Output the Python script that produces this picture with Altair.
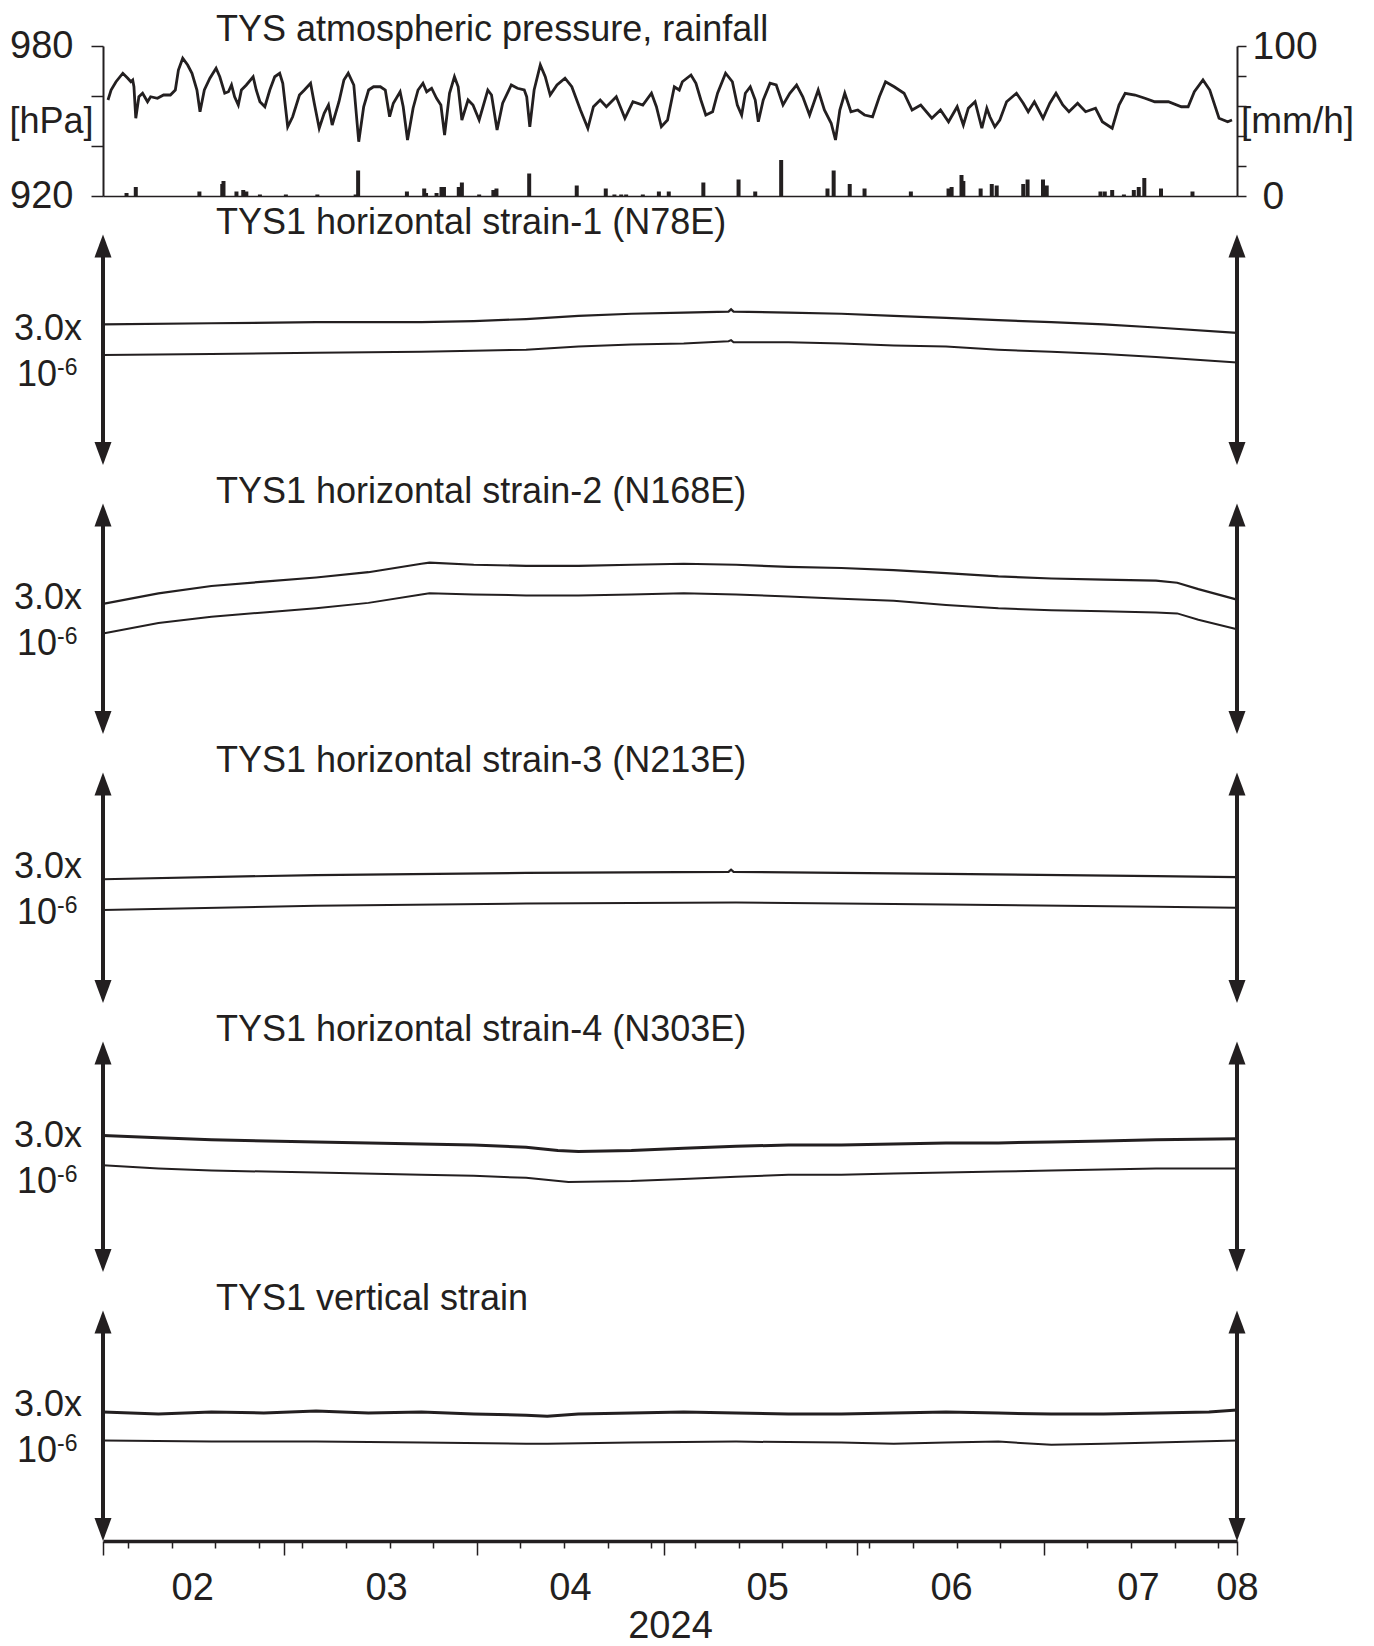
import altair as alt
import pandas as pd

# ---------------- data ----------------
START = pd.Timestamp("2024-02-01")
TOP_TITLE = "TYS atmospheric pressure, rainfall"
STRAIN_TITLES = [
    "TYS1 horizontal strain-1 (N78E)",
    "TYS1 horizontal strain-2 (N168E)",
    "TYS1 horizontal strain-3 (N213E)",
    "TYS1 horizontal strain-4 (N303E)",
    "TYS1 vertical strain",
]

# atmospheric pressure [hPa]; time in days since 2024-02-01
press_days = [0, 0.5, 1.3, 2.4, 3.2, 3.7, 4.0, 4.2, 4.5, 5.0, 5.6, 6.4, 6.9, 8.0, 9.0, 10.1,
              10.9, 11.4, 12.1, 12.9, 13.6, 14.4, 14.9, 15.6, 16.5, 17.5, 18.1, 18.9, 19.5,
              20.0, 20.5, 21.1, 21.6, 22.4, 23.5, 24.0, 24.6, 25.4, 26.2, 27.0, 27.8, 28.3,
              29.1, 29.9, 31.0, 31.8, 32.8, 33.4, 34.2, 35.0, 35.7, 36.3, 37.4, 38.2, 38.9,
              39.8, 40.6, 41.4, 42.2, 43.0, 44.1, 44.9, 45.6, 46.2, 47.3, 47.8, 48.5, 49.4,
              50.2, 51.0, 51.6, 52.4, 53.2, 53.9, 54.5, 55.3, 56.1, 56.7, 57.3, 58.3, 59.1,
              60.1, 61.5, 62.1, 63.0, 63.9, 65.3, 66.3, 67.4, 67.8, 68.3, 69.0, 70.0, 70.8,
              71.6, 72.7, 74.0, 75.1, 76.5, 77.7, 78.6, 79.7, 80.7, 82.3, 83.7, 85.0, 86.6,
              88.0, 88.8, 89.6, 90.6, 91.7, 92.5, 93.0, 94.4, 95.2, 96.0, 96.8, 97.9, 98.7,
              100.0, 101.1, 101.9, 102.6, 103.2, 104.0, 104.8, 105.3, 106.1, 107.2, 108.2,
              109.3, 110.4, 111.5, 112.5, 113.6, 115.0, 116.0, 117.1, 117.8, 118.5, 119.3,
              120.3, 121.4, 122.5, 123.8, 124.9, 125.9, 127.3, 128.9, 130.2, 131.6, 133.4,
              134.8, 136.1, 137.5, 138.5, 139.3, 140.4, 141.5, 142.3, 142.8, 143.6, 144.4,
              145.5, 147.1, 148.2, 149.0, 150.0, 151.4, 152.5, 153.5, 154.6, 155.6, 157.0,
              158.3, 159.9, 161.0, 162.6, 163.7, 164.7, 166.3, 167.9, 169.5, 171.7, 173.8,
              174.9, 175.9, 177.3, 178.4, 179.9, 181.3, 182.0]
press_hpa = [958.4, 962.4, 965.7, 969.1, 967.1, 965.7, 966.4, 963.7, 951.1, 959.7, 961.1, 957.7,
             959.7, 959.1, 960.4, 960.4, 962.4, 970.4, 975.1, 972.4, 969.1, 962.4, 953.7, 962.4,
             967.1, 971.1, 967.7, 961.1, 961.7, 964.4, 959.7, 956.4, 962.4, 964.4, 967.7, 962.4,
             957.7, 955.7, 962.4, 967.7, 969.1, 965.1, 947.7, 951.7, 960.4, 962.4, 965.1, 957.1,
             947.1, 953.1, 956.4, 948.4, 957.7, 966.4, 969.1, 964.4, 941.7, 955.7, 962.4, 963.7,
             963.7, 962.4, 951.7, 957.1, 961.7, 955.7, 942.4, 955.1, 962.4, 965.1, 961.7, 963.1,
             959.1, 956.4, 944.4, 961.1, 967.7, 963.7, 950.4, 958.4, 956.4, 950.4, 962.4, 960.4,
             946.4, 957.1, 964.4, 963.1, 962.4, 959.7, 947.7, 962.4, 972.4, 967.7, 960.4, 964.4,
             967.1, 963.7, 954.4, 947.1, 955.7, 958.4, 955.7, 959.7, 951.1, 957.7, 956.4, 961.1,
             955.7, 947.7, 950.4, 963.7, 962.4, 965.7, 968.4, 965.1, 958.4, 952.4, 953.7, 961.1,
             969.1, 965.7, 956.4, 952.4, 961.1, 963.7, 958.4, 949.7, 958.4, 965.1, 964.4, 956.4,
             961.1, 964.4, 959.7, 952.4, 962.4, 954.4, 949.1, 942.4, 954.4, 961.1, 953.7, 954.4,
             952.4, 951.7, 959.7, 965.7, 963.7, 961.1, 954.4, 956.4, 951.1, 954.4, 949.7, 955.7,
             948.4, 955.1, 957.7, 947.1, 955.1, 951.7, 947.7, 950.4, 957.7, 961.1, 957.1, 953.7,
             957.7, 951.1, 957.1, 961.1, 956.4, 953.7, 957.1, 953.7, 955.1, 949.7, 947.1, 956.4,
             961.1, 960.4, 959.1, 957.7, 957.7, 955.7, 955.7, 961.7, 966.4, 962.4, 951.1, 949.7,
             950.4]

# rainfall [mm/h]
rain_days = [3.0, 4.5, 14.8, 18.5, 18.7, 20.8, 21.9, 22.4, 24.6, 28.8, 33.9, 40.1, 40.5, 48.4,
             51.2, 51.5, 53.2, 54.0, 54.4, 56.8, 57.3, 60.1, 62.4, 62.9, 68.2, 75.9, 80.6, 82.0,
             83.1, 83.9, 86.6, 89.2, 90.8, 96.4, 102.1, 104.8, 109.0, 116.5, 117.5, 120.1, 122.5,
             130.0, 136.1, 136.6, 138.2, 138.5, 141.3, 143.1, 143.9, 148.2, 148.9, 151.4, 152.0,
             160.7, 161.4, 162.6, 164.5, 166.1, 166.9, 167.8, 170.5, 175.6]
rain_mmh = [2, 6, 3, 8, 10, 3, 4, 3, 1, 1, 1, 1, 17, 3, 5, 2, 2, 6, 6, 6, 9, 1, 4, 5, 15, 7, 5,
            1, 1, 1, 1, 3, 3, 9, 11, 3, 24, 5, 17, 8, 5, 3, 5, 6, 14, 10, 5, 8, 7, 8, 11, 11, 7,
            3, 3, 4, 1, 4, 6, 12, 5, 3]

# strain traces (relative, units of 1e-6); two traces per panel
s1_up_days = [0, 17.4, 34.2, 51.1, 59.5, 67.9, 76.3, 84.8, 93.2, 100.4, 100.8, 101.2, 110.0,
              118.5, 126.9, 135.3, 143.7, 152.2, 160.6, 169.0, 182]
s1_up_vals = [1.830, 1.844, 1.858, 1.858, 1.872, 1.899, 1.940, 1.968, 1.982, 1.995, 2.025, 1.995,
              1.982, 1.968, 1.940, 1.913, 1.885, 1.858, 1.830, 1.789, 1.720]
s1_lo_days = s1_up_days
s1_lo_vals = [1.431, 1.445, 1.459, 1.472, 1.486, 1.500, 1.541, 1.569, 1.582, 1.610, 1.624, 1.596,
              1.596, 1.582, 1.555, 1.541, 1.500, 1.472, 1.445, 1.404, 1.335]

s2_up_days = [0, 8.9, 17.4, 25.8, 34.2, 42.6, 51.1, 52.4, 59.5, 67.9, 76.3, 84.8, 93.2, 101.6,
              110.0, 118.5, 126.9, 135.3, 143.7, 152.2, 160.6, 169.0, 172.4, 175.8, 182]
s2_up_vals = [1.693, 1.830, 1.926, 1.982, 2.036, 2.105, 2.215, 2.229, 2.202, 2.188, 2.188, 2.202,
              2.215, 2.202, 2.174, 2.160, 2.133, 2.092, 2.050, 2.023, 2.009, 1.995, 1.968, 1.885,
              1.748]
s2_lo_days = s2_up_days
s2_lo_vals = [1.307, 1.445, 1.527, 1.582, 1.637, 1.706, 1.816, 1.830, 1.816, 1.803, 1.803, 1.816,
              1.830, 1.816, 1.789, 1.761, 1.734, 1.679, 1.637, 1.610, 1.596, 1.582, 1.569, 1.486,
              1.362]

s3_up_days = [0, 34.2, 67.9, 100.4, 100.8, 101.2, 135.3, 169.0, 182]
s3_up_vals = [1.610, 1.665, 1.693, 1.706, 1.734, 1.706, 1.679, 1.651, 1.637]
s3_lo_days = [0, 34.2, 67.9, 101.6, 135.3, 169.0, 182]
s3_lo_vals = [1.211, 1.266, 1.293, 1.307, 1.280, 1.252, 1.238]

s4_up_days = [0, 8.9, 17.4, 34.2, 51.1, 59.5, 67.9, 73.0, 76.3, 84.8, 93.2, 101.6, 110.0, 118.5,
              126.9, 135.3, 143.7, 152.2, 160.6, 169.0, 182]
s4_up_vals = [1.775, 1.748, 1.720, 1.693, 1.665, 1.651, 1.624, 1.582, 1.569, 1.582, 1.610, 1.637,
              1.651, 1.651, 1.665, 1.679, 1.679, 1.693, 1.706, 1.720, 1.734]
s4_lo_days = [0, 8.9, 17.4, 34.2, 51.1, 59.5, 67.9, 74.7, 84.8, 93.2, 101.6, 110.0, 118.5, 126.9,
              135.3, 143.7, 152.2, 160.6, 169.0, 182]
s4_lo_vals = [1.390, 1.348, 1.321, 1.293, 1.266, 1.252, 1.225, 1.170, 1.183, 1.211, 1.238, 1.266,
              1.266, 1.280, 1.293, 1.307, 1.321, 1.335, 1.348, 1.348]

s5_up_days = [0, 8.9, 17.4, 25.8, 34.2, 42.6, 51.1, 59.5, 67.9, 71.3, 76.3, 84.8, 93.2, 101.6,
              110.0, 118.5, 126.9, 135.3, 143.7, 152.2, 160.6, 169.0, 177.5, 182]
s5_up_vals = [1.679, 1.651, 1.679, 1.665, 1.693, 1.665, 1.679, 1.651, 1.637, 1.624, 1.651, 1.665,
              1.679, 1.665, 1.651, 1.651, 1.665, 1.679, 1.665, 1.651, 1.651, 1.665, 1.679, 1.706]
s5_lo_days = [0, 17.4, 34.2, 51.1, 67.9, 71.3, 84.8, 101.6, 118.5, 126.9, 135.3, 143.7, 152.2,
              160.6, 169.0, 182]
s5_lo_vals = [1.307, 1.293, 1.293, 1.280, 1.266, 1.266, 1.280, 1.293, 1.280, 1.266, 1.280, 1.293,
              1.252, 1.266, 1.280, 1.307]

SCALE_BAR = 3.0          # arrow length = 3.0 x 10^-6
# month label anchor times (month, day, hour); minute 30 marks a label-only value
month_label_times = [(2, 15, 7), (3, 17, 10), (4, 15, 22), (5, 17, 14), (6, 16, 2), (7, 16, 2)]

# ---------------- style ----------------
INK = "#231f20"
FONT = "Liberation Sans"
FS = 36
FS_NUM = 38
W = 1134
H_TOP = 150
H_STRAIN = 269
Y_MAX = 3.5

UP = "M0,0L0.5,1.35L-0.5,1.35Z"
DOWN = "M0,0L0.5,-1.35L-0.5,-1.35Z"


def to_dt(days):
    return [START + pd.Timedelta(days=d) for d in days]


XDOM = [alt.DateTime(year=2024, month=2, date=1), alt.DateTime(year=2024, month=8, date=1)]


def xscale():
    return alt.Scale(domain=XDOM, nice=False)


# ---------------- top panel ----------------
press_df = pd.DataFrame({"t": to_dt(press_days), "p": press_hpa})
rain_df = pd.DataFrame({"t": to_dt(rain_days), "r": rain_mmh})

top_x_axis = alt.Axis(labels=False, ticks=False, title=None, grid=False,
                      domainColor=INK, domainWidth=1.5)

pline = alt.Chart(press_df).mark_line(color=INK, strokeWidth=2.8).encode(
    x=alt.X("t:T", scale=xscale(), axis=top_x_axis),
    y=alt.Y("p:Q", scale=alt.Scale(domain=[920, 980], nice=False, zero=False),
            axis=alt.Axis(values=[920, 940, 960, 980],
                          labelExpr="datum.value == 920 || datum.value == 980 ? datum.label : ''",
                          grid=False, tickSize=12, tickWidth=1.5, tickColor=INK,
                          domainWidth=2, domainColor=INK, labelPadding=18,
                          labelFontSize=FS_NUM, labelFont=FONT, labelColor=INK,
                          title="[hPa]", titleAngle=0, titleX=-52, titleY=75,
                          titleAlign="center", titleBaseline="middle", titleFontSize=FS,
                          titleFont=FONT, titleFontWeight="normal", titleColor=INK)),
)
rbars = alt.Chart(rain_df).mark_bar(color=INK, size=4).encode(
    x=alt.X("t:T", scale=xscale(), axis=top_x_axis),
    y=alt.Y("r:Q", scale=alt.Scale(domain=[0, 100], nice=False),
            axis=alt.Axis(orient="right", values=[0, 20, 40, 60, 80, 100],
                          labelExpr="datum.value == 0 || datum.value == 100 ? datum.label : ''",
                          grid=False, tickSize=9, tickWidth=1.5, tickColor=INK,
                          domainWidth=2, domainColor=INK,
                          labelPadding={"condition": {"test": "datum.value == 0", "value": 16},
                                        "value": 6},
                          labelFontSize=FS_NUM + 1, labelFont=FONT, labelColor=INK,
                          title="[mm/h]", titleAngle=0, titleX=60, titleY=75,
                          titleAlign="center", titleBaseline="middle", titleFontSize=FS + 1,
                          titleFont=FONT, titleFontWeight="normal", titleColor=INK)),
)
top_title = alt.Chart(pd.DataFrame({"label": [TOP_TITLE]})).mark_text(
    align="left", baseline="alphabetic", font=FONT, fontSize=FS, color=INK
).encode(text="label:N", x=alt.value(113), y=alt.value(-5))

top = alt.layer(pline, rbars, top_title).resolve_scale(y="independent").properties(
    width=W, height=H_TOP)

# ---------------- bottom time axis ----------------
month_starts = [alt.DateTime(year=2024, month=m, date=1) for m in range(2, 9)]
mondays = [alt.DateTime(year=2024, month=int(d.month), date=int(d.day))
           for d in pd.date_range("2024-02-05", "2024-07-31", freq="7D")]
mids = [alt.DateTime(year=2024, month=m, date=d, hours=h, minutes=30)
        for m, d, h in month_label_times]

bottom_axis = alt.Axis(
    values=month_starts + mondays + mids,
    labelExpr="minutes(datum.value) == 30 || (month(datum.value) == 7 && date(datum.value) == 1)"
              " ? timeFormat(datum.value, '%m') : ''",
    tickSize={"condition": {"test": "date(datum.value) == 1 && hours(datum.value) == 0"
                                    " && minutes(datum.value) == 0",
                            "value": 14}, "value": 7},
    tickOpacity={"condition": {"test": "minutes(datum.value) == 30", "value": 0}, "value": 1},
    labelPadding={"condition": {"test": "month(datum.value) == 7", "value": 14}, "value": 21},
    tickWidth=1.5, tickColor=INK, domainWidth=3.5, domainColor=INK, grid=False,
    labelFontSize=FS_NUM, labelFont=FONT, labelColor=INK,
    labelOverlap=False, labelFlush=False, labelBound=False,
    title="2024", titleFontSize=FS_NUM, titleFont=FONT, titleFontWeight="normal",
    titleColor=INK, titleY=66, titleBaseline="top",
)


# ---------------- strain panels ----------------
def strain_panel(title, up_days, up_vals, lo_days, lo_vals, up_width, last=False):
    ys = alt.Scale(domain=[0, Y_MAX], nice=False, zero=False)
    up_df = pd.DataFrame({"t": to_dt(up_days), "v": up_vals})
    lo_df = pd.DataFrame({"t": to_dt(lo_days), "v": lo_vals})
    xaxis = bottom_axis if last else None

    def X(field):
        return alt.X(field, scale=xscale(), axis=xaxis)

    l_up = alt.Chart(up_df).mark_line(color=INK, strokeWidth=up_width).encode(
        x=X("t:T"), y=alt.Y("v:Q", scale=ys, axis=None))
    l_lo = alt.Chart(lo_df).mark_line(color=INK, strokeWidth=2.0).encode(
        x=X("t:T"), y=alt.Y("v:Q", scale=ys, axis=None))

    arr_df = pd.DataFrame({"t": to_dt([0, 182]), "lo": [0.0, 0.0],
                           "hi": [SCALE_BAR, SCALE_BAR]})
    arr_df["s0"] = arr_df["lo"] + 0.15
    arr_df["s1"] = arr_df["hi"] - 0.15
    shaft = alt.Chart(arr_df).mark_rule(color=INK, strokeWidth=4).encode(
        x=X("t:T"), y=alt.Y("s0:Q", scale=ys, axis=None), y2="s1:Q")
    head_up = alt.Chart(arr_df).mark_point(shape=UP, filled=True, size=1156, color=INK,
                                           opacity=1, strokeWidth=0).encode(
        x=X("t:T"), y=alt.Y("hi:Q", scale=ys, axis=None))
    head_dn = alt.Chart(arr_df).mark_point(shape=DOWN, filled=True, size=1156, color=INK,
                                           opacity=1, strokeWidth=0).encode(
        x=X("t:T"), y=alt.Y("lo:Q", scale=ys, axis=None))

    ttl = alt.Chart(pd.DataFrame({"label": [title], "y": [SCALE_BAR]})).mark_text(
        align="left", baseline="alphabetic", font=FONT, fontSize=FS, color=INK
    ).encode(text="label:N", x=alt.value(113), y=alt.Y("y:Q", scale=ys, axis=None))

    lab1 = alt.Chart(pd.DataFrame({"label": ["3.0x"], "y": [1.62]})).mark_text(
        align="right", baseline="alphabetic", font=FONT, fontSize=FS, color=INK
    ).encode(text="label:N", x=alt.value(-21), y=alt.Y("y:Q", scale=ys, axis=None))
    lab2 = alt.Chart(pd.DataFrame({"label": ["10"], "y": [1.03]})).mark_text(
        align="right", baseline="alphabetic", font=FONT, fontSize=FS, color=INK
    ).encode(text="label:N", x=alt.value(-46), y=alt.Y("y:Q", scale=ys, axis=None))
    lab3 = alt.Chart(pd.DataFrame({"label": ["-6"], "y": [1.17]})).mark_text(
        align="left", baseline="alphabetic", font=FONT, fontSize=23, color=INK
    ).encode(text="label:N", x=alt.value(-46), y=alt.Y("y:Q", scale=ys, axis=None))

    return alt.layer(l_up, l_lo, shaft, head_up, head_dn, ttl, lab1, lab2, lab3).properties(
        width=W, height=H_STRAIN)


panels = [
    strain_panel(STRAIN_TITLES[0], s1_up_days, s1_up_vals, s1_lo_days, s1_lo_vals, 2.2),
    strain_panel(STRAIN_TITLES[1], s2_up_days, s2_up_vals, s2_lo_days, s2_lo_vals, 2.2),
    strain_panel(STRAIN_TITLES[2], s3_up_days, s3_up_vals, s3_lo_days, s3_lo_vals, 2.2),
    strain_panel(STRAIN_TITLES[3], s4_up_days, s4_up_vals, s4_lo_days, s4_lo_vals, 3.0),
    strain_panel(STRAIN_TITLES[4], s5_up_days, s5_up_vals, s5_lo_days, s5_lo_vals, 3.0,
                 last=True),
]

chart = alt.vconcat(top, *panels, spacing=0, bounds="flush").properties(
    padding={"left": 0, "top": 4, "right": 5, "bottom": 0}
).configure(font=FONT).configure_view(stroke=None)

chart.save("out.html", embed_options={"renderer": "svg", "actions": False})
